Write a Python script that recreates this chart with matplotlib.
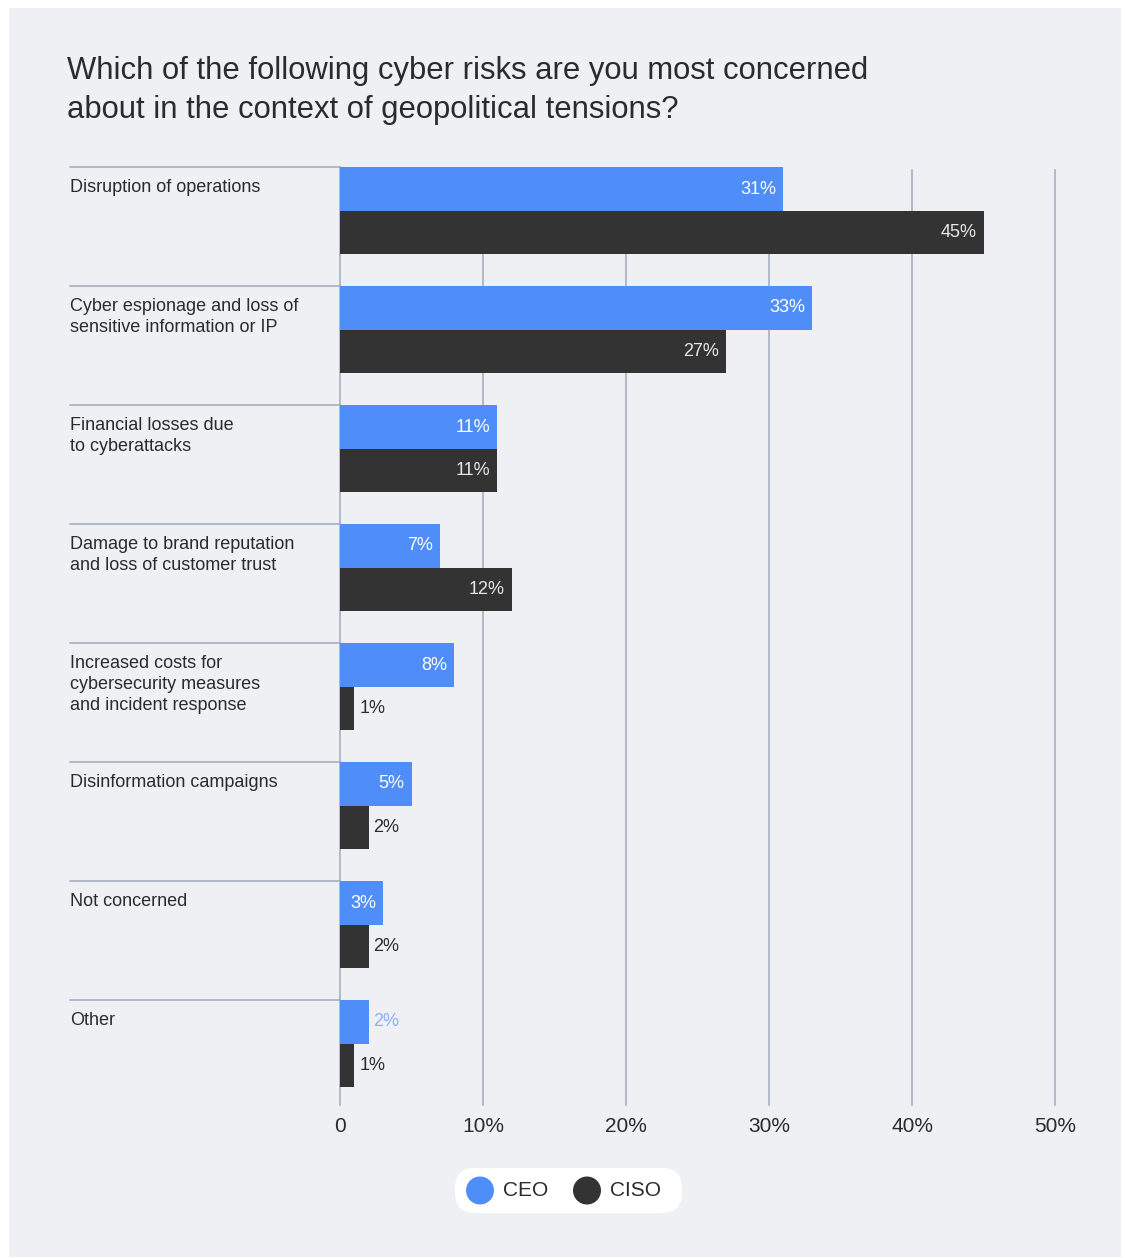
import matplotlib
matplotlib.use("Agg")
from matplotlib import pyplot as plt
from matplotlib.patches import FancyBboxPatch, Circle, Rectangle
import numpy as np

plt.rcParams['font.family'] = ['Liberation Sans', 'DejaVu Sans']

# データ
categories = [
    "Disruption of operations",
    "Cyber espionage and loss of\nsensitive information or IP",
    "Financial losses due\nto cyberattacks",
    "Damage to brand reputation\nand loss of customer trust",
    "Increased costs for\ncybersecurity measures\nand incident response",
    "Disinformation campaigns",
    "Not concerned",
    "Other",
]
series_names = ["CEO", "CISO"]
ceo = [31, 33, 11, 7, 8, 5, 3, 2]
ciso = [45, 27, 11, 12, 1, 2, 2, 1]
x_ticks = [0, 10, 20, 30, 40, 50]
x_ticklabels = ["0", "10%", "20%", "30%", "40%", "50%"]
title = "Which of the following cyber risks are you most concerned\nabout in the context of geopolitical tensions?"

# スタイル
W, H = 1125, 1258
BG = "#eff0f4"
BLUE = "#4f8df9"
DARK = "#333333"
GRID = "#a0aabc"
TXT = "#2b2b2b"

fig = plt.figure(figsize=(W / 100, H / 100), dpi=100)
fig.patch.set_facecolor("white")
fig.patches.append(Rectangle((9 / W, 1 - 1257 / H), (1121 - 9) / W, (1257 - 8) / H,
                             transform=fig.transFigure, facecolor=BG, edgecolor="none", zorder=-10))

x0, x1 = 340, 1055
y_top, y_bot = 167, 1105
ax = fig.add_axes([x0 / W, 1 - y_bot / H, (x1 - x0) / W, (y_bot - y_top) / H])
ax.set_facecolor("none")
slot = 119.0
ymax = (y_bot - y_top) / slot
ax.set_xlim(0, 50)
ax.set_ylim(ymax, 0)
for s in ax.spines.values():
    s.set_visible(False)

# グリッド
for t in x_ticks:
    y_start = 0 if t == 0 else 0.025
    ax.plot([t, t], [y_start, ymax], color=GRID, lw=1.1, zorder=0, clip_on=False)

bh = 44 / slot
bh2 = 43 / slot
y = np.arange(len(categories))
ax.barh(y, ceo, height=bh, align="edge", color=BLUE, zorder=2)
ax.barh(y + bh, ciso, height=bh2, align="edge", color=DARK, zorder=2)

px = 50 / (x1 - x0)  # 1ピクセル分のデータ幅
trans = ax.get_yaxis_transform()
lab_x = (70 - x0) / (x1 - x0)
for i, cat in enumerate(categories):
    ax.plot([lab_x, 0], [i, i], transform=trans, color=GRID, lw=1.1, clip_on=False, zorder=1)
    ax.text(lab_x, i + 0.1, cat, transform=trans, ha="left", va="top",
            fontsize=13, color=TXT, linespacing=1.32)

    for val, yc, kind in [(ceo[i], i + bh / 2, 0), (ciso[i], i + bh + bh2 / 2, 1)]:
        s = f"{val}%"
        if val >= 3:
            ax.text(val - 7 * px, yc, s, ha="right", va="center", fontsize=13,
                    color="white" if kind == 0 else "#e8e8e8", zorder=3)
        else:
            ax.text(val + 5 * px, yc, s, ha="left", va="center", fontsize=13,
                    color="#8ab1f7" if kind == 0 else TXT, zorder=3)

ax.set_xticks(x_ticks)
ax.set_xticklabels(x_ticklabels, fontsize=15, color=TXT)
ax.tick_params(axis="x", length=0, pad=9)
ax.set_yticks([])

# タイトル
fig.text(67 / W, 1 - 56 / H, title, ha="left", va="top", fontsize=22.3, color=TXT, linespacing=1.38)

# 凡例
lx0, lx1, ly0, ly1 = 455, 682, 1168, 1213
fig.patches.append(FancyBboxPatch((lx0 / W, 1 - ly1 / H), (lx1 - lx0) / W, (ly1 - ly0) / H,
                                  boxstyle="round,pad=0,rounding_size=0.018",
                                  transform=fig.transFigure, facecolor="white", edgecolor="none",
                                  mutation_aspect=W / H))
for name, col, cx in [(series_names[0], BLUE, 480), (series_names[1], DARK, 587)]:
    fig.patches.append(Circle((cx, H - 1190.5), 14, transform=None, facecolor=col, edgecolor="none"))
    fig.text((cx + 23) / W, 1 - 1191 / H, name, ha="left", va="center", fontsize=15, color=TXT)

fig.savefig("out.png", dpi=100, facecolor="white")
